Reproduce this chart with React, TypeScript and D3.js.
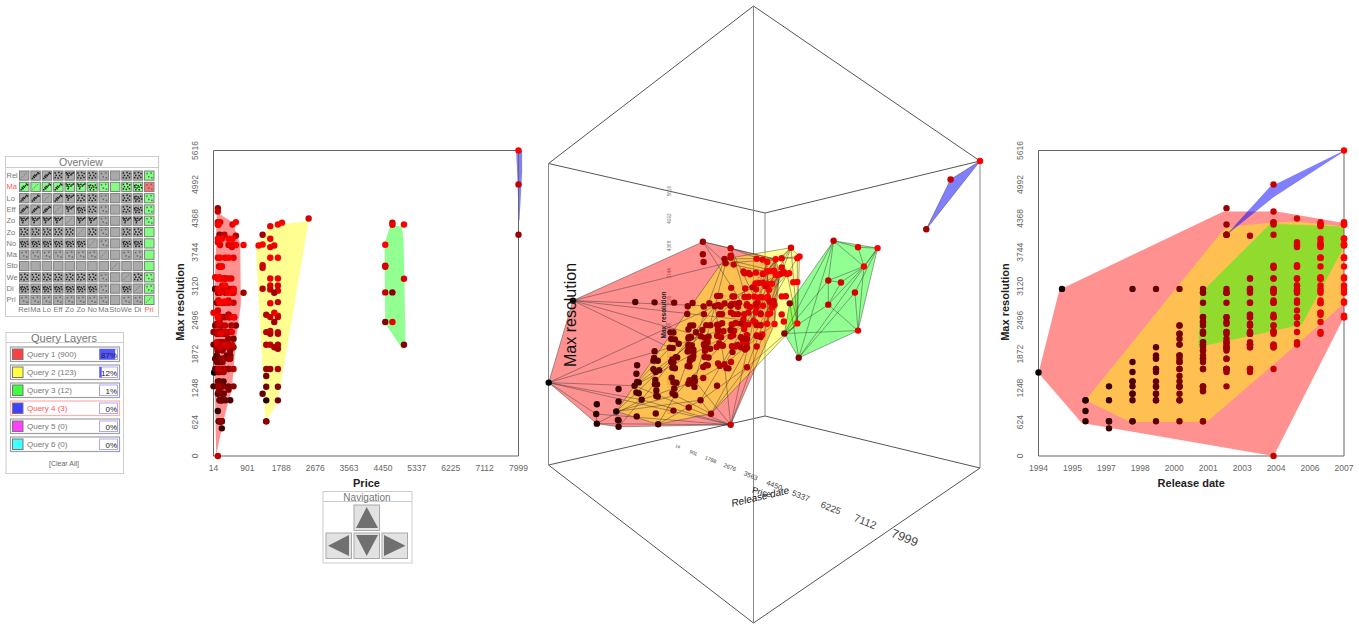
import React from "react";
import * as d3 from "d3";

// ---------- data: [release year, price, max resolution] ----------
const query1: number[][] = [
  [1994,30,1536],[1995,60,3072],[1996,171,1024],[1996,128,826],[1996,171,640],
  [1997,232,1280],[1997,232,1024],[1997,232,640],[1997,232,508],[1997,189,640],
  [1998,58,3072],[1998,171,1727],[1998,128,1544],[1998,171,1372],[1998,276,1372],[1998,14,1280],[1998,128,1144],[1998,276,1144],[1998,451,1024],[1998,148,640],
  [1999,128,3072],[1999,128,2000],[1999,101,1850],[1999,320,1800],[1999,58,1788],[1999,58,1600],[1999,407,1598],[1999,189,1544],[1999,171,1372],[1999,276,1280],[1999,150,1274],[1999,232,1144],[1999,232,1024],[1999,320,1024],[1999,200,640],
  [2000,276,3072],[2000,58,2400],[2000,232,2400],[2000,101,2248],[2000,320,2248],[2000,538,2156],[2000,14,2048],[2000,189,2048],[2000,364,1850],[2000,451,1850],[2000,171,1788],[2000,101,1727],[2000,232,1727],[2000,171,1600],[2000,320,1600],[2000,128,1372],[2000,407,1280],[2000,232,1280],[2000,276,1144],[2000,180,1024],[2000,232,640],
  [2001,407,3072],[2001,128,3000],[2001,101,2816],[2001,442,2552],[2001,276,2554],[2001,171,2462],[2001,600,2400],[2001,189,2280],[2001,320,2280],[2001,171,2248],[2001,171,2094],[2001,364,2094],[2001,171,2048],[2001,451,2000],[2001,451,1940],[2001,120,1940],[2001,451,1850],[2001,407,1788],[2001,276,1788],[2001,250,1727],[2001,232,1600],[2001,120,1600],[2001,538,1280],[2001,232,1280],[2001,407,1220],[2001,160,1190],[2001,189,640],
  [2002,128,4556],[2002,128,4256],[2002,171,4066],[2002,495,3072],[2002,171,3000],[2002,800,3000],[2002,189,2816],[2002,556,2552],[2002,320,2552],[2002,101,2432],[2002,14,2280],[2002,451,2280],[2002,232,2248],[2002,400,2156],[2002,300,2094],[2002,189,2094],[2002,232,2048],[2002,300,2000],[2002,538,2000],[2002,250,1940],[2002,451,1788],[2002,232,1788],[2002,407,1600],[2002,300,1600],[2002,150,1544],[2002,150,1280],
  [2003,600,4048],[2003,128,3264],[2003,300,3264],[2003,538,3072],[2003,189,3040],[2003,320,3000],[2003,407,2816],[2003,240,2816],[2003,407,2596],[2003,128,2552],[2003,232,2552],[2003,171,2432],[2003,200,2400],[2003,480,2400],[2003,128,2280],[2003,350,2248],[2003,250,2094],[2003,407,2048],[2003,450,2048],[2003,100,2000],[2003,538,1600],[2003,180,1600],[2003,280,1544],
  [2004,128,4495],[2004,128,4300],[2004,140,4256],[2004,300,4066],[2004,160,3484],[2004,232,3264],[2004,320,3264],[2004,189,3072],[2004,407,3072],[2004,128,3040],[2004,538,3000],[2004,145,2860],[2004,538,2816],[2004,300,2816],[2004,407,2596],[2004,189,2552],[2004,148,2400],[2004,320,2400],[2004,276,2280],[2004,130,2248],[2004,495,2048],[2004,200,2000],[2004,400,2000],[2004,150,1600],[2004,128,0],
  [2005,128,3930],[2005,189,3880],[2005,407,3880],[2005,495,3840],[2005,232,3484],[2005,407,3264],[2005,189,3264],[2005,320,3072],[2005,320,3040],[2005,495,3000],[2005,407,2860],[2005,171,2816],[2005,128,2676],[2005,407,2552],[2005,151,2552],[2005,171,2432],[2005,320,2280],[2005,100,2094],[2005,300,2048],
  [2006,512,4256],[2006,189,4300],[2006,150,3930],[2006,512,3880],[2006,556,3880],[2006,128,3644],[2006,320,3644],[2006,538,3644],[2006,160,3484],[2006,58,3288],[2006,480,3264],[2006,320,3264],[2006,244,3136],[2006,128,3072],[2006,538,3040],[2006,189,3000],[2006,145,2860],[2006,407,2816],[2006,14,2632],[2006,128,2596],[2006,495,2280],[2006,200,2248],
  [2007,600,4300],[2007,140,4256],[2007,128,3993],[2007,232,3993],[2007,407,3993],[2007,512,3993],[2007,600,3880],[2007,800,3880],[2007,189,3644],[2007,407,3644],[2007,232,3484],[2007,171,3288],[2007,128,3264],[2007,320,3136],[2007,538,3072],[2007,407,3000],[2007,300,2840],[2007,189,2816],[2007,128,2552],[2007,538,2552],
];
const query2: number[][] = [
  [2005,2505,4367],[2007,1806,4290],[2007,1700,4256],[2006,1500,4225],[2006,1500,3993],[2007,1194,3870],[2007,1300,3889],[2006,1605,3870],[2006,1500,3840],
  [2007,1500,3644],[2007,1700,3644],[2005,1300,3509],[2004,1300,3460],[2006,1500,3264],[2006,1700,3264],[2005,1500,3135],[2005,1700,3135],[2003,1300,3074],
  [2004,1500,3060],[2005,1700,3040],[2002,1605,3000],[2004,1700,2829],[2006,1500,2810],[2006,1605,2633],[2003,1395,2596],[2004,1500,2553],[2007,1700,2580],[2004,1700,2553],
  [2002,1605,2462],[2003,1395,2278],[2004,1500,2300],[2003,1500,2248],[2004,1700,2278],[2003,1700,2248],[2003,1395,2045],[2004,1500,2045],[2003,1605,2000],[2003,1700,2045],
  [2002,1700,1972],[2002,1395,1598],[2002,1500,1598],[2003,1700,1598],[2000,1395,1470],[2000,1395,1274],[2001,1700,1274],[1999,1300,1145],[1996,1395,1023],[2000,1700,1023],
  [1998,1395,637],[2001,1395,637],[2002,1300,4066],
];
const query3: number[][] = [
  [2004,4698,4287],[2006,4698,4250],[2007,5000,4256],[2007,4511,3883],[2004,4511,3497],[2005,4511,3480],
  [2005,5000,3258],[2004,4511,3007],[2001,4698,3007],[2001,4511,2462],[2006,4698,2462],[2001,5000,2045],
];
const query4: number[][] = [[2007,7999,5616],[2004,7999,4992],[2002,7999,4066]];

// painted hull outlines
const q1PriceHull = [[101,4483],[512,4299],[714,3901],[731,2799],[600,2125],[495,1237],[276,655],[101,73],[84,40],[31,1819],[40,3000]];
const q2PriceHull = [[1124,3840],[1238,3993],[1500,4238],[1893,4268],[2505,4317],[1762,1268],[1675,961],[1395,655],[1369,716],[1168,3227]];
const q3PriceHull = [[4642,4238],[4948,4219],[4991,3962],[5043,2003],[4956,1972],[4511,2431],[4493,3901]];
const q4PriceHull = [[7937,5616],[8093,5616],[8093,5218],[8024,4330],[8006,4330],[7964,5218]];
const q1YearHull = [[1994,1525],[1994.89,3056],[2001.87,4495],[2004.14,4495],[2007,4281],[2007,2554],[2004.01,0],[1995.84,606]];
const q2YearHull = [[1996,1023],[2001.9,4177],[2002.58,4238],[2003.86,4287],[2004.99,4311],[2007,4219],[2007,2799],[2001.16,625],[1997.9,625]];
const q3YearHull = [[2000.81,2003],[2000.88,2921],[2001.16,3105],[2003.86,4268],[2007,4219],[2007,3840],[2005.2,2413]];
const q4YearHull = [[2007,5616],[2003.83,4942],[2002.09,4115],[2002.09,4097],[2004,4758],[2007,5597]];

const resTicks = [0,624,1248,1872,2496,3120,3744,4368,4992,5616];
const priceTicks = [14,901,1788,2676,3563,4450,5337,6225,7112,7999];
const yearTicks = [1994,1995,1997,1998,2000,2001,2003,2004,2006,2007];
const queryColors = ["#ff0000","#ffff00","#00ff00","#0000ff"];
const layerNames = ["Query 1 (900)","Query 2 (123)","Query 3 (12)","Query 4 (3)","Query 5 (0)","Query 6 (0)"];
const layerSwatches = ["#ff4040","#ffff40","#40ff40","#4040ff","#ff40ff","#40ffff"];
const layerShares = [87,12,1,0,0,0];
const overviewRows = ["Rel","Ma","Lo","Eff","Zo","Zo","No","Ma","Sto","We","Di","Pri"];
const overviewCols = ["Rel","Ma","Lo","Eff","Zo","Zo","No","Ma","Sto","We","Di","Pri"];
const overviewCells = [
  "/uugbggseggs","u/uubbdsegds","uu/ubggsegds","uuu/bdgsegds","bbbb/bbsebbs","ggggg/gsegge",
  "dddddd/sedde","sssssss/esse","eeeeeeee/eee","gggggggse/gs","dddddddsed/s","ssssssssess/",
];
const cellPatterns: Record<string, number[][]> = {
  "/": [[.25,.75],[.4,.6],[.55,.45],[.7,.3]],
  u: [[.2,.78],[.38,.68],[.3,.58],[.52,.52],[.62,.38],[.42,.45],[.72,.22],[.82,.3]],
  b: [[.18,.22],[.3,.3],[.48,.25],[.72,.3],[.85,.22],[.25,.42],[.4,.5],[.62,.42],[.35,.68]],
  g: [[.2,.25],[.55,.2],[.8,.3],[.3,.48],[.62,.5],[.2,.7],[.48,.75],[.78,.68]],
  d: [[.18,.38],[.32,.32],[.52,.38],[.78,.32],[.22,.55],[.42,.6],[.62,.52],[.85,.58],[.3,.78],[.62,.78]],
  s: [[.28,.3],[.68,.25],[.45,.62],[.75,.72]],
  e: [[.5,.5]],
};

// ---------- scales ----------
const yearNorm = d3.scaleLinear().domain([1994,2007]).range([0,1]);
const priceNorm = d3.scaleLinear().domain([14,7999]).range([0,1]);
const resNorm = d3.scaleLinear().domain([0,5616]).range([0,1]);
const dotColor = d3.scaleLinear<string>().domain([1994,2007]).range(["#000000","#ff0000"]);
const priceX = d3.scaleLinear().domain([14,7999]).range([213.5,518.5]);
const yearX = d3.scaleLinear().domain([1994,2007]).range([1038.5,1344]);
const resY = d3.scaleLinear().domain([0,5616]).range([456,150.5]);
const yearTickX = d3.scalePoint<number>().domain(yearTicks).range([1038.5,1344]);

// ---------- perspective box: screen position of the 4 vertical edges ----------
const edge = {
  a: { x: 548.5, bottom: 465, top: 163.5 }, // year min, price min
  b: { x: 765, bottom: 416, top: 213 },     // year max, price min
  c: { x: 980, bottom: 468, top: 161 },     // year max, price max
  d: { x: 753.5, bottom: 623, top: 6 },     // year min, price max
};
function project(u: number, v: number, w: number) {
  const e = [edge.a, edge.b, edge.c, edge.d];
  const D = e.map((k) => 1 / (k.bottom - k.top));
  const bi = (f: number[]) =>
    f[0] * (1 - u) * (1 - v) + f[1] * u * (1 - v) + f[2] * u * v + f[3] * (1 - u) * v;
  const d = bi(D);
  const x = bi(e.map((k, i) => k.x * D[i])) / d;
  const b = bi(e.map((k, i) => k.bottom * D[i])) / d;
  return { x, y: b - w / d, s: 1 / d };
}
const project3 = (r: number[]) => project(yearNorm(r[0]), priceNorm(r[1]), resNorm(r[2]));

// ---------- convex hull of a query in the cube, its edges give the wireframe ----------
type V = number[];
const sub = (a: V, b: V) => [a[0]-b[0],a[1]-b[1],a[2]-b[2]];
const cross = (a: V, b: V) => [a[1]*b[2]-a[2]*b[1],a[2]*b[0]-a[0]*b[2],a[0]*b[1]-a[1]*b[0]];
const dot = (a: V, b: V) => a[0]*b[0]+a[1]*b[1]+a[2]*b[2];
function hullEdges(rows: number[][]): number[][] {
  const P = rows.map((r) => [yearNorm(r[0]), priceNorm(r[1]), resNorm(r[2])]);
  const n = P.length;
  if (n < 4) return d3.range(n).flatMap((i) => d3.range(i + 1, n).map((j) => [i, j]));
  const far = (f: (p: V) => number) => d3.range(n).reduce((b, i) => (f(P[i]) > f(P[b]) ? i : b), 0);
  const i0 = 0;
  const i1 = far((p) => dot(sub(p, P[i0]), sub(p, P[i0])));
  const ab = sub(P[i1], P[i0]);
  const i2 = far((p) => { const c = cross(ab, sub(p, P[i0])); return dot(c, c); });
  const nrm = cross(ab, sub(P[i2], P[i0]));
  const i3 = far((p) => Math.abs(dot(nrm, sub(p, P[i0]))));
  let faces: number[][] = [[i0,i1,i2],[i0,i2,i3],[i0,i3,i1],[i1,i3,i2]];
  const ctr = [i0,i1,i2,i3].map((i) => P[i]).reduce((a, b) => [a[0]+b[0]/4,a[1]+b[1]/4,a[2]+b[2]/4],[0,0,0]);
  const orient = (f: number[]) => {
    const m = cross(sub(P[f[1]],P[f[0]]),sub(P[f[2]],P[f[0]]));
    return dot(m, sub(ctr,P[f[0]])) > 0 ? [f[0],f[2],f[1]] : f;
  };
  faces = faces.map(orient);
  for (let i = 0; i < n; i++) {
    const vis = faces.filter((f) => dot(cross(sub(P[f[1]],P[f[0]]),sub(P[f[2]],P[f[0]])), sub(P[i],P[f[0]])) > 1e-9);
    if (!vis.length) continue;
    const keys = new Set<string>();
    vis.forEach((f) => [0,1,2].forEach((k) => keys.add(f[k] + "_" + f[(k+1)%3])));
    const rest = faces.filter((f) => !vis.includes(f));
    vis.forEach((f) => [0,1,2].forEach((k) => {
      const a = f[k], b = f[(k+1)%3];
      if (!keys.has(b + "_" + a)) rest.push([a,b,i]);
    }));
    faces = rest;
  }
  const seen = new Map<string, number[]>();
  faces.forEach((f) => [0,1,2].forEach((k) => {
    const a = Math.min(f[k],f[(k+1)%3]), b = Math.max(f[k],f[(k+1)%3]);
    seen.set(a + "_" + b, [a,b]);
  }));
  return [...seen.values()];
}

const FONT = "'Liberation Sans', Arial, sans-serif";
const AXIS_GREY = "#666";
const DOT_R = 3.2;
const polyLine = d3.line<number[]>().x((d) => d[0]).y((d) => d[1]).curve(d3.curveLinearClosed);

function ScatterPanel({ x, xTicks, tickX, xLabel, xValue, hulls, labelX }: any) {
  const all = [...query1, ...query2, ...query3, ...query4];
  const [x0, x1] = x.range();
  const [y0, y1] = resY.range();
  return (
    <g>
      {hulls.map((h: number[][], i: number) => (
        <path key={i} d={polyLine(h.map((p) => [x(p[0]), resY(p[1])])) as string}
          fill={queryColors[i]} fillOpacity={i === 3 ? 0.5 : 0.43} />
      ))}
      <path d={`M${x0},${y1}H${x1}V${y0}H${x0}Z`} fill="none" stroke={AXIS_GREY} strokeWidth={1} />
      {all.map((r, i) => (
        <circle key={i} cx={x(xValue(r))} cy={resY(r[2])} r={DOT_R} fill={dotColor(r[0])} />
      ))}
      {xTicks.map((t: number) => (
        <text key={t} x={tickX(t)} y={471} fontSize={8.5} fill="#666" textAnchor="middle">{t}</text>
      ))}
      {resTicks.map((t) => (
        <text key={t} transform={`translate(${x0 - 18},${resY(t)}) rotate(-90)`} fontSize={8.5} fill="#666" textAnchor="middle" dy="0.35em">{t}</text>
      ))}
      <text x={(x0 + x1) / 2 + (xLabel === "Price" ? 0.5 : 0)} y={487} fontSize={11} fontWeight={700} textAnchor="middle" fill="#222">{xLabel}</text>
      <text transform={`translate(${labelX},${302}) rotate(-90)`} fontSize={11} fontWeight={700} textAnchor="middle" fill="#222">Max resolution</text>
    </g>
  );
}

function Box3D() {
  const queries = [query1, query2, query3, query4];
  const all = queries.flat();
  const corner = (u: number, v: number, w: number) => { const p = project(u, v, w); return [p.x, p.y]; };
  const boxEdges = [
    [[0,0,1],[0,1,1]],[[0,1,1],[1,1,1]],[[0,0,1],[1,0,1]],[[1,0,1],[1,1,1]],
    [[0,0,0],[0,1,0]],[[0,1,0],[1,1,0]],[[0,0,0],[1,0,0]],[[1,0,0],[1,1,0]],
  ];
  const verticals = [[0,0],[1,0],[1,1],[0,1]];
  return (
    <g>
      {boxEdges.map((e, i) => {
        const a = corner(e[0][0], e[0][1], e[0][2]), b = corner(e[1][0], e[1][1], e[1][2]);
        return <line key={i} x1={a[0]} y1={a[1]} x2={b[0]} y2={b[1]} stroke="#555" strokeWidth={1} />;
      })}
      {verticals.map((e, i) => {
        const a = corner(e[0], e[1], 0), b = corner(e[0], e[1], 1);
        return <line key={i} x1={a[0]} y1={a[1]} x2={b[0]} y2={b[1]} stroke="#888" strokeWidth={1} />;
      })}
      {resTicks.map((t) => {
        const p = project(0.46, 0, resNorm(t));
        return <text key={t} transform={`translate(${p.x},${p.y}) rotate(-90)`} fontSize={4.6} fill="#777" textAnchor="middle" dy="0.35em">{t}</text>;
      })}
      {priceTicks.map((t) => {
        const v = priceNorm(t);
        const p = project(0.5, v, -0.044);
        const q = project(0.5, v + 0.02, -0.044);
        const fs = 12.5 * Math.pow(p.s / 410, 2);
        const ang = (Math.atan2(q.y - p.y, q.x - p.x) * 180) / Math.PI;
        return <text key={t} transform={`translate(${p.x},${p.y}) rotate(${ang})`} fontSize={fs} fill="#444" textAnchor="middle" dy="0.35em">{t}</text>;
      })}
      {queries.map((q, i) => {
        const pts = q.map((r) => { const p = project3(r); return [p.x, p.y] as [number, number]; });
        const h = d3.polygonHull(pts);
        return h ? <path key={i} d={polyLine(h) as string} fill={queryColors[i]} fillOpacity={i === 3 ? 0.5 : 0.43} /> : null;
      })}
      {queries.map((q, i) => {
        const pts = q.map(project3);
        return hullEdges(q).map((e, j) => (
          <line key={i + "-" + j} x1={pts[e[0]].x} y1={pts[e[0]].y} x2={pts[e[1]].x} y2={pts[e[1]].y} stroke="#333" strokeOpacity={0.55} strokeWidth={0.8} />
        ));
      })}
      {all.map((r, i) => { const p = project3(r); return <circle key={i} cx={p.x} cy={p.y} r={DOT_R} fill={dotColor(r[0])} />; })}
      <text transform="translate(576,315) rotate(-90)" fontSize={16} fill="#111" textAnchor="middle">Max resolution</text>
      <text transform="translate(666,315) rotate(-90)" fontSize={6.4} fontWeight={700} fill="#222" textAnchor="middle">Max_resolution</text>
      <text transform="translate(761,500) rotate(-13)" fontSize={10} fill="#111" textAnchor="middle" fontStyle="italic">Release date</text>
      <text transform="translate(761,495) rotate(15)" fontSize={8.5} fill="#111" textAnchor="middle">Price</text>
    </g>
  );
}

function Overview() {
  const col = d3.scaleBand<number>().domain(d3.range(12)).range([19,154.5]).paddingInner(0.08);
  const row = d3.scaleBand<number>().domain(d3.range(12)).range([170.5,305]).paddingInner(0.1);
  return (
    <g>
      <rect x={5.5} y={156.5} width={153} height={160} fill="#fff" stroke="#ccc" />
      <line x1={5.5} x2={158.5} y1={167.5} y2={167.5} stroke="#ccc" />
      <text x={81} y={166} fontSize={10.5} fill="#777" textAnchor="middle">Overview</text>
      {overviewRows.map((r, i) => (
        <text key={i} x={6.5} y={(row(i) as number) + 7.5} fontSize={7.5} fill={i === 1 ? "#f55" : "#777"}>{r}</text>
      ))}
      {overviewCols.map((c, j) => (
        <text key={j} x={(col(j) as number) + 5} y={311.5} fontSize={7.5} fill={j === 11 ? "#f55" : "#777"} textAnchor="middle">{c}</text>
      ))}
      {overviewCells.map((line, i) => Array.from(line).map((k, j) => {
        const cx = col(j) as number, cy = row(i) as number, w = col.bandwidth(), h = row.bandwidth();
        const sel = i === 1 || j === 11;
        const fill = i === 1 && j === 11 ? "#ff7070" : sel ? "#80ff80" : "#aaaaaa";
        return (
          <g key={i + "-" + j}>
            <rect x={cx + 0.5} y={cy + 0.5} width={w - 1} height={h - 1} fill={fill} stroke="#808080" strokeWidth={1} />
            {k === "e" ? null : (cellPatterns[k] || []).map((p, n) => (
              <rect key={n} x={cx + p[0] * w - 0.75} y={cy + p[1] * h - 0.75} width={k === "/" ? 1 : 1.5} height={k === "/" ? 1 : 1.5}
                fill={k === "/" ? "#777" : k === "s" ? "#666" : "#222"} />
            ))}
          </g>
        );
      }))}
    </g>
  );
}

function Layers() {
  const row = d3.scaleBand<number>().domain(d3.range(6)).range([347,455]);
  const pct = d3.scaleLinear().domain([0,100]).range([0,18]);
  return (
    <g>
      <rect x={6} y={332.5} width={117.5} height={141} fill="#fff" stroke="#ccc" />
      <line x1={6} x2={123.5} y1={342.5} y2={342.5} stroke="#ccc" />
      <text x={64} y={342} fontSize={11} fill="#777" textAnchor="middle">Query Layers</text>
      {layerNames.map((n, i) => {
        const y = row(i) as number;
        const hot = i === 3;
        return (
          <g key={i}>
            <rect x={10.5} y={y} width={109} height={14.5} fill="#fff" stroke={hot ? "#ffb0b0" : "#a0a0a0"} strokeWidth={1.2} />
            <rect x={12.5} y={y + 2} width={10.5} height={10.5} fill={layerSwatches[i]} stroke="#777" strokeWidth={1} />
            <text x={27} y={y + 10} fontSize={8} fill={hot ? "#f55" : "#777"}>{n}</text>
            <rect x={99.5} y={y + 2} width={18} height={10.5} fill="#fff" stroke="#aaaaff" strokeWidth={1} />
            <rect x={99.5} y={y + 2} width={pct(layerShares[i])} height={10.5} fill="#5555ff" />
            <text x={117} y={y + 10.5} fontSize={8} fill="#222" textAnchor="end">{layerShares[i]}%</text>
          </g>
        );
      })}
      <text x={64} y={465.5} fontSize={7} fill="#666" textAnchor="middle">[Clear All]</text>
    </g>
  );
}

function Navigation() {
  const btn = (x: number, y: number, pts: number[][], key: string) => (
    <g key={key}>
      <rect x={x} y={y} width={25.5} height={25.5} fill="#e2e2e2" stroke="#aaa" />
      <polygon points={pts.map((p) => `${x + p[0]},${y + p[1]}`).join(" ")} fill="#707070" />
    </g>
  );
  return (
    <g>
      <rect x={323} y={491.5} width={89} height={71.5} fill="#fff" stroke="#ccc" />
      <line x1={323} x2={412} y1={501.5} y2={501.5} stroke="#ccc" />
      <text x={367} y={501} fontSize={10} fill="#777" textAnchor="middle">Navigation</text>
      {btn(354,505,[[12.7,2],[24,23],[2,23]],"up")}
      {btn(354,533,[[2,2],[24,2],[12.7,23]],"down")}
      {btn(326,533,[[23,2],[23,23],[2,12.7]],"left")}
      {btn(382,533,[[2,2],[2,23],[23.5,12.7]],"right")}
    </g>
  );
}

export default function App() {
  return (
    <svg width={1359} height={624} viewBox="0 0 1359 624"
      style={{ position: "absolute", left: 0, top: 0, display: "block", fontFamily: FONT, background: "#fff" }}>
      <Overview />
      <Layers />
      <ScatterPanel x={priceX} xTicks={priceTicks} tickX={(t: number) => priceX(t)} xLabel="Price" xValue={(r: number[]) => r[1]} labelX={184}
        hulls={[q1PriceHull,q2PriceHull,q3PriceHull,q4PriceHull]} />
      <Navigation />
      <Box3D />
      <ScatterPanel x={yearX} xTicks={yearTicks} tickX={(t: number) => yearTickX(t)} xLabel="Release date" xValue={(r: number[]) => r[0]} labelX={1009}
        hulls={[q1YearHull,q2YearHull,q3YearHull,q4YearHull]} />
    </svg>
  );
}
